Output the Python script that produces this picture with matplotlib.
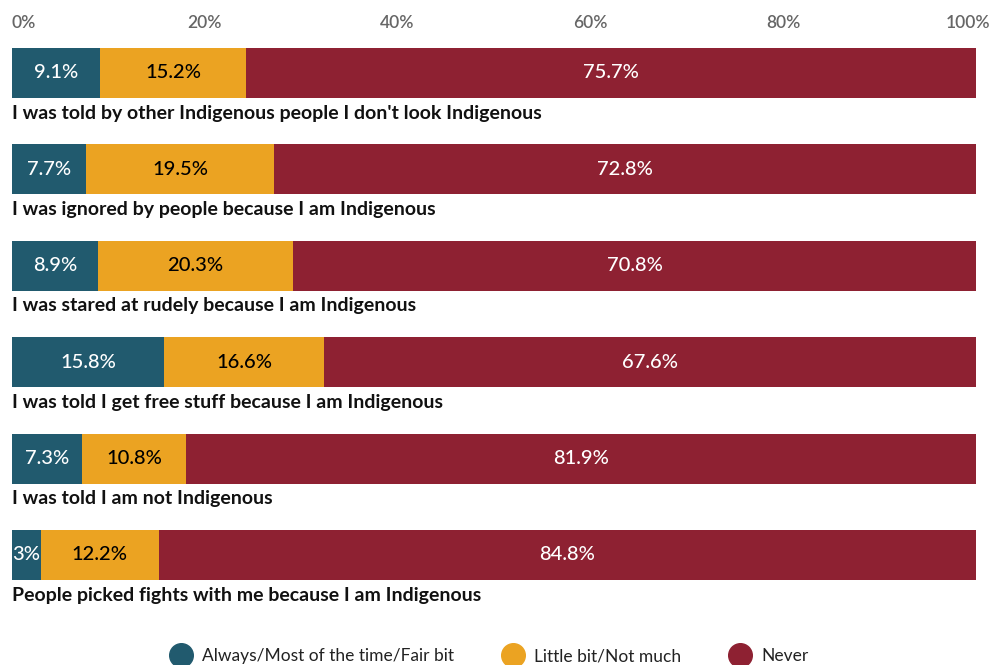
import matplotlib as mpl

mpl.use("Agg")

import matplotlib.pyplot as plt
import numpy as np
from matplotlib.lines import Line2D

CATEGORIES = [
    "I was told by other Indigenous people I don't look Indigenous",
    "I was ignored by people because I am Indigenous",
    "I was stared at rudely because I am Indigenous",
    "I was told I get free stuff because I am Indigenous",
    "I was told I am not Indigenous",
    "People picked fights with me because I am Indigenous",
]
ALWAYS = [9.1, 7.7, 8.9, 15.8, 7.3, 3.0]
LITTLE = [15.2, 19.5, 20.3, 16.6, 10.8, 12.2]
NEVER = [75.7, 72.8, 70.8, 67.6, 81.9, 84.8]
SERIES_NAMES = ["Always/Most of the time/Fair bit", "Little bit/Not much", "Never"]
TICKS = [0, 20, 40, 60, 80, 100]

COLORS = ["#215a6e", "#eba322", "#8e2132"]
TEXT_COLORS = ["white", "black", "white"]
FONT = ["Lato", "DejaVu Sans"]

plt.rcParams["font.family"] = FONT


def fmt(v):
    return f"{v:g}%"


fig = plt.figure(figsize=(9.92, 6.65), dpi=100)
W, H = 992, 665
x0, x1 = 12, 976
ax = fig.add_axes([x0 / W, 0, (x1 - x0) / W, 1])

step = 96.4
first = 73
ax.set_ylim((H - first) / step, -first / step)
ax.set_xlim(0, 100)

y = np.arange(len(CATEGORIES))
left = np.zeros(len(CATEGORIES))
for vals, color, tcolor in zip([ALWAYS, LITTLE, NEVER], COLORS, TEXT_COLORS):
    vals = np.array(vals)
    ax.barh(y, vals, left=left, height=50 / step, color=color, linewidth=0)
    for yi, l, v in zip(y, left, vals):
        ax.text(l + v / 2, yi, fmt(v), ha="center", va="center",
                fontsize=14.5, fontweight="medium", color=tcolor)
    left += vals

for yi, cat in zip(y, CATEGORIES):
    ax.text(0, yi + 40 / step, cat, ha="left", va="center",
            fontsize=14, fontweight="bold", color="#111111")

# percentage scale along the top
for t in TICKS:
    ha = "left" if t == 0 else "center"
    xt = t if t < 100 else 99.2
    ax.text(xt, -50 / step, f"{t}%", ha=ha, va="center",
            fontsize=12.5, fontweight="semibold", color="#666666")

ax.axis("off")

handles = [Line2D([], [], marker="o", linestyle="", markersize=17,
                  markerfacecolor=c, markeredgecolor=c) for c in COLORS]
fig.legend(handles, SERIES_NAMES, loc="center", bbox_to_anchor=(0.49, 1 - 656 / H),
           ncol=3, frameon=False, handletextpad=0.2, columnspacing=2.4,
           labelcolor="#222222",
           prop={"family": FONT, "weight": "normal", "size": 12.5})

fig.savefig("out.png", dpi=100, facecolor="white")
